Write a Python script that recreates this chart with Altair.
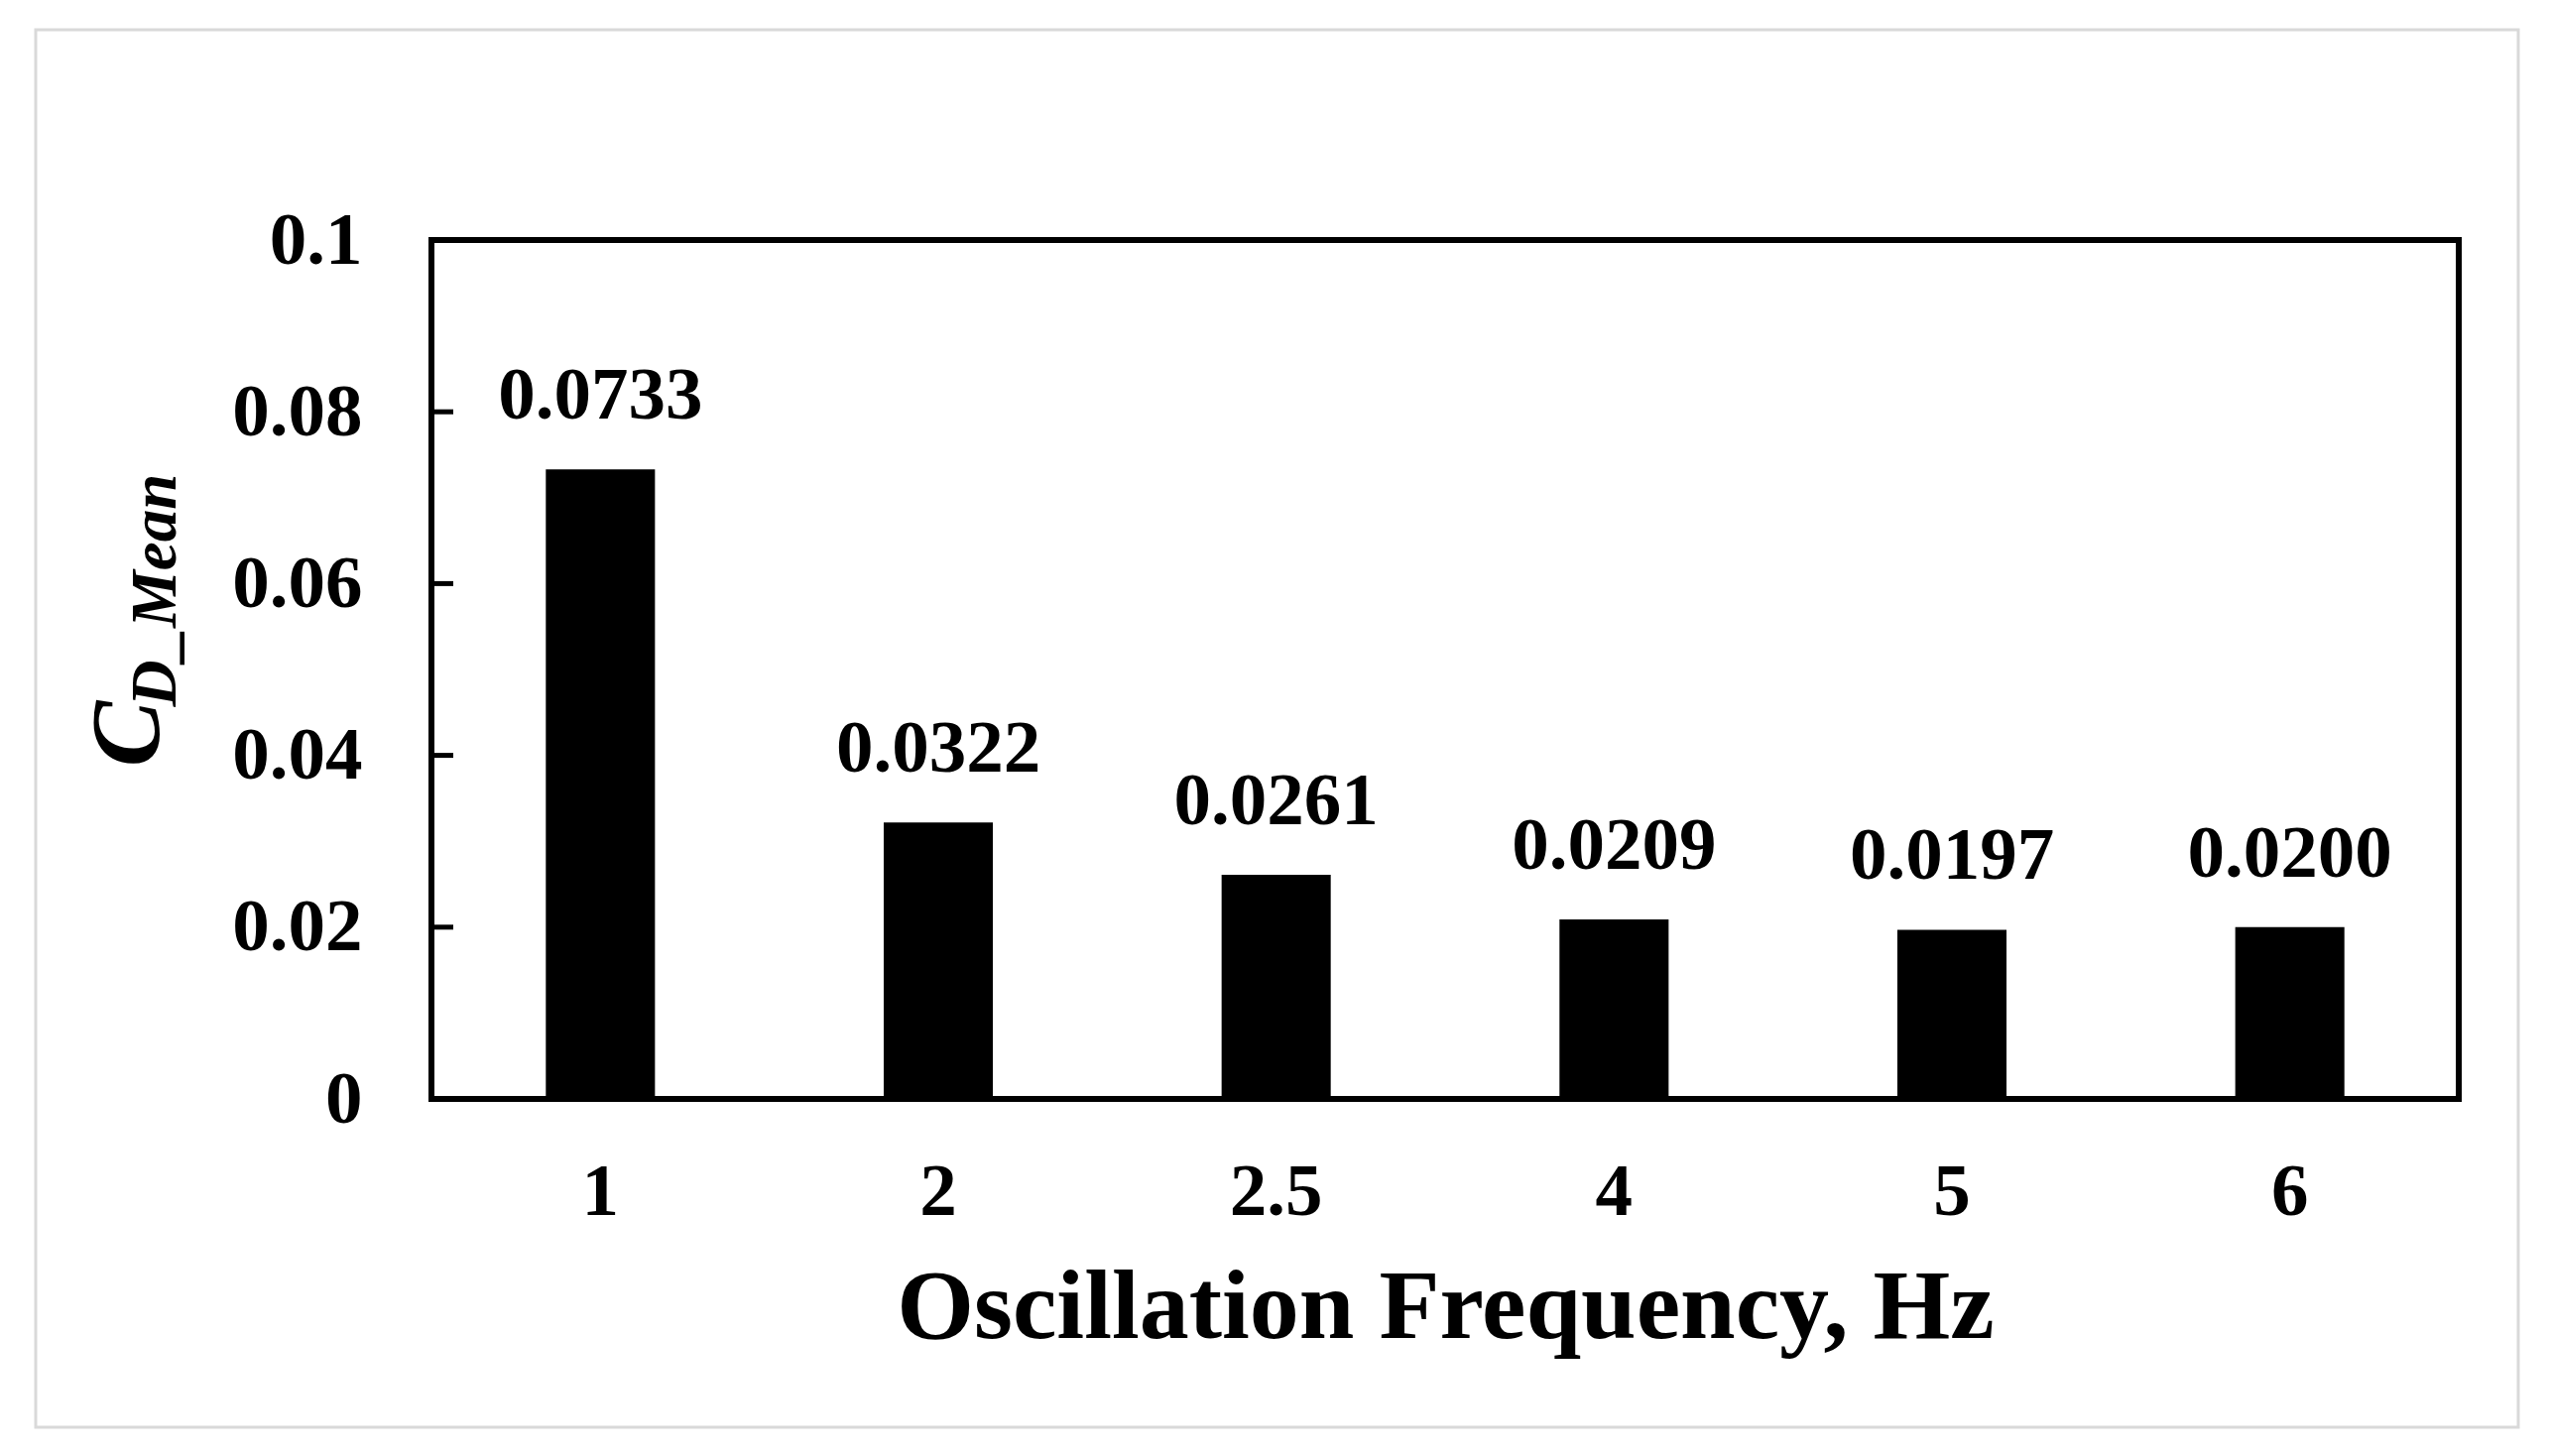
import altair as alt
import pandas as pd

# data
freqs = ["1", "2", "2.5", "4", "5", "6"]
cd_mean = [0.0733, 0.0322, 0.0261, 0.0209, 0.0197, 0.0200]
y_ticks = [0, 0.02, 0.04, 0.06, 0.08, 0.1]
inner_ticks = [0.02, 0.04, 0.06, 0.08]

FONT = "Liberation Serif"
W, H = 2044, 866

df = pd.DataFrame({"freq": freqs, "cd": cd_mean})
tick_df = pd.DataFrame({"t": inner_ticks})
one = pd.DataFrame({"a": [0]})

x_enc = alt.X(
    "freq:N",
    sort=freqs,
    scale=alt.Scale(paddingInner=0.677, paddingOuter=0.3385),
    axis=alt.Axis(
        title="Oscillation Frequency, Hz",
        titleFont=FONT, titleFontSize=100, titleFontWeight="bold", titleColor="black",
        titleX=W / 2, titleY=240, titleAlign="center", titleBaseline="alphabetic",
        titleAngle=0,
        labelFont=FONT, labelFontSize=75, labelFontWeight="bold", labelColor="black",
        labelAngle=0, labelPadding=57, ticks=False, tickSize=0, domain=False,
        grid=False,
    ),
)
y_scale = alt.Scale(domain=[0, 0.1], nice=False, zero=True)
y_enc = alt.Y(
    "cd:Q",
    scale=y_scale,
    axis=alt.Axis(
        values=y_ticks, format="~g", title=None,
        labelFont=FONT, labelFontSize=75, labelFontWeight="bold", labelColor="black",
        labelPadding=70, ticks=False, tickSize=0, domain=False, grid=False,
        labelOverlap=False, labelFlush=False,
    ),
)

bars = alt.Chart(df).mark_bar(color="black").encode(x=x_enc, y=y_enc)

labels = alt.Chart(df).mark_text(
    font=FONT, fontSize=75, fontWeight="bold", color="black",
    baseline="alphabetic", align="center", dy=-51,
).encode(
    x=alt.X("freq:N", sort=freqs),
    y=alt.Y("cd:Q", scale=y_scale),
    text=alt.Text("cd:Q", format=".4f"),
)

ticks = alt.Chart(tick_df).mark_rule(color="black", strokeWidth=5).encode(
    y=alt.Y("t:Q", scale=y_scale),
    x=alt.value(0),
    x2=alt.value(22),
)

y_title_c = alt.Chart(one).mark_text(
    text="C", font=FONT, fontSize=100, fontWeight="bold", fontStyle="italic",
    color="black", angle=270, align="center", baseline="alphabetic",
).encode(x=alt.value(-275), y=alt.value(498))

y_title_sub = alt.Chart(one).mark_text(
    text="D_Mean", font=FONT, fontSize=65, fontWeight="bold", fontStyle="italic",
    color="black", angle=270, align="center", baseline="alphabetic",
).encode(x=alt.value(-258), y=alt.value(353))

frame = alt.Chart(one).mark_rect(
    fill="white", fillOpacity=0, stroke="#d9d9d9", strokeWidth=3,
).encode(
    x=alt.value(-399), x2=alt.value(2104),
    y=alt.value(-212), y2=alt.value(1197),
)

chart = alt.layer(frame, bars, ticks, labels, y_title_c, y_title_sub).properties(
    width=W, height=H,
    autosize=alt.AutoSizeParams(type="none"),
    padding={"left": 427, "top": 234, "right": 70, "bottom": 340},
    background="white",
).configure_view(stroke="black", strokeWidth=6)

chart.save("out.html", embed_options={"renderer": "svg", "actions": False})
